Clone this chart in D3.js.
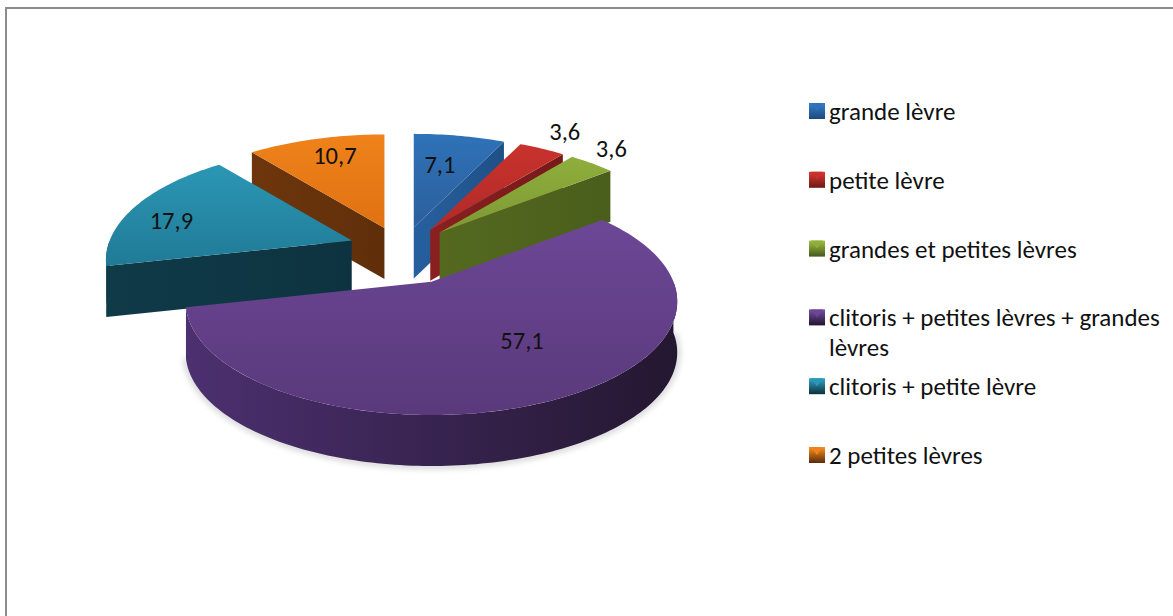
<!DOCTYPE html>
<html lang="fr">
<head>
<meta charset="utf-8">
<title>Localisation</title>
<script src="https://cdn.jsdelivr.net/npm/d3@7"></script>
<style>
  html, body { margin: 0; background: #fff; }
  svg { display: block; }
  text { font-family: Carlito, Lato, "Open Sans", sans-serif; fill: #111; }
</style>
</head>
<body>
<svg id="chart" width="1173" height="616"></svg>
<script>
const categories = [
  "grande lèvre",
  "petite lèvre",
  "grandes et petites lèvres",
  "clitoris + petites lèvres + grandes lèvres",
  "clitoris + petite lèvre",
  "2 petites lèvres"
];
const values = [7.1, 3.6, 3.6, 57.1, 17.9, 10.7];
const valueLabels = ["7,1", "3,6", "3,6", "57,1", "17,9", "10,7"];

// Shades of each slice: lit top edge, shaded top edge, wall
const topLight = ["#2f72b8", "#c9322c", "#8fae3c", "#6c4796", "#2b97b5", "#f0821b"];
const topDark  = ["#2c5f9c", "#b02a28", "#7c9a34", "#5a397b", "#207a96", "#df7211"];
const wallLeft  = ["#27609f", "#8a1f1f", "#54691f", "#4c3070", "#0f3a48", "#6e360c"];
const wallRight = ["#1f5086", "#771a1a", "#4a5e1c", "#241730", "#0e3340", "#5f2f0a"];

// How far each slice is pulled out of the pie, and where its label sits
const explosion = [0.22, 0.22, 0.22, 0.28, 0.22, 0.22];
const labelRadius = [0.64, 1.24, 1.2, 0.6, 0.79, 0.78];
const labelTurn = [-2, 0, -2, -9, -6, 2];

const centre = { x: 402, y: 248 };
const rx = 242, ry = 110, tilt = 0.175, sag = 0.7, depth = 51;
const frame = { x: 6, y: 8 };

const svg = d3.select("#chart");
const defs = svg.append("defs");

// Only the top and left edges of the chart area's frame are in view
svg.append("path")
  .attr("d", d3.line()([[frame.x, 616], [frame.x, frame.y], [1173, frame.y]]))
  .attr("fill", "none").attr("stroke", "#8c8c8c").attr("stroke-width", 2);

// Disc seen in perspective: the far rim is compressed relative to the near rim
function project(angle, r = 1) {
  const s = Math.sin(angle) * r, c = Math.cos(angle) * r;
  const f = 1 + tilt * c;
  return [rx * s / f, -ry * c / f];
}

const arcs = d3.pie().sort(null).value(d => d)(values);
const line = d3.line();

const slices = arcs.map((a, i) => {
  const mid = (a.startAngle + a.endAngle) / 2;
  const e = explosion[i], c = Math.cos(mid);
  const apex = [
    centre.x + rx * e * Math.sin(mid),
    centre.y - ry * e * c / (1 + sag * e * c)
  ];
  return { ...a, i, mid, apex };
});

const at = (s, angle, r = 1) => {
  const p = project(angle, r);
  return [s.apex[0] + p[0], s.apex[1] + p[1]];
};
const down = p => [p[0], p[1] + depth];

function rimPoints(s, from, to) {
  const n = Math.max(2, Math.ceil((to - from) / 0.02));
  return d3.range(n + 1).map(k => at(s, from + (to - from) * k / n));
}

// A radial wall shows only when the slice's own top face lies above it
function wallFaces(s, angle) {
  const r = at(s, angle), m = at(s, s.mid);
  const dx = r[0] - s.apex[0];
  if (Math.abs(dx) < 1) return false;
  const yOnWall = s.apex[1] + (r[1] - s.apex[1]) * (m[0] - s.apex[0]) / dx;
  return m[1] < yOnWall;
}

const pie = svg.append("g");

// Soft shadow under the near rim of the largest slice
defs.append("filter").attr("id", "soft")
  .attr("x", "-10%").attr("y", "-10%").attr("width", "120%").attr("height", "120%")
  .append("feGaussianBlur").attr("stdDeviation", 3);

// Painter's order: right-hand slices, then the back-left ones, the large front slice last
[0, 1, 2, 5, 4, 3].forEach(idx => {
  const s = slices[idx];
  const g = pie.append("g").attr("class", "slice");
  const rim = rimPoints(s, s.startAngle, s.endAngle);
  const xs = rim.map(p => p[0]);
  const ys = rim.concat([s.apex]).map(p => p[1]);

  const topId = `top-${idx}`, wallId = `wall-${idx}`;
  const topGrad = defs.append("linearGradient").attr("id", topId)
    .attr("gradientUnits", "userSpaceOnUse")
    .attr("x1", 0).attr("x2", 0).attr("y1", d3.min(ys)).attr("y2", d3.max(ys));
  topGrad.append("stop").attr("offset", 0).attr("stop-color", topLight[idx]);
  topGrad.append("stop").attr("offset", 1).attr("stop-color", topDark[idx]);

  const wallGrad = defs.append("linearGradient").attr("id", wallId)
    .attr("gradientUnits", "userSpaceOnUse")
    .attr("x1", d3.min(xs.concat(s.apex[0]))).attr("x2", d3.max(xs.concat(s.apex[0])))
    .attr("y1", 0).attr("y2", 0);
  wallGrad.append("stop").attr("offset", 0).attr("stop-color", wallLeft[idx]);
  wallGrad.append("stop").attr("offset", 1).attr("stop-color", wallRight[idx]);

  // Outer wall, only over the part of the rim turned towards the viewer
  const from = Math.max(s.startAngle, Math.PI / 2);
  const to = Math.min(s.endAngle, 3 * Math.PI / 2);
  if (to > from) {
    const edge = rimPoints(s, from, to);
    if (idx === 3) {
      g.append("path")
        .attr("d", line(edge.map(down)))
        .attr("fill", "none").attr("stroke", "#000").attr("stroke-opacity", 0.25)
        .attr("stroke-width", 4).attr("filter", "url(#soft)");
    }
    g.append("path")
      .attr("d", line(edge.concat(edge.map(down).reverse())) + "Z")
      .attr("fill", `url(#${wallId})`);
  }

  // Radial walls facing the viewer
  [s.startAngle, s.endAngle].filter(a => wallFaces(s, a)).forEach(a => {
    const r = at(s, a);
    g.append("path")
      .attr("d", line([s.apex, r, down(r), down(s.apex)]) + "Z")
      .attr("fill", `url(#${wallId})`);
  });

  // Top face
  g.append("path")
    .attr("d", line([s.apex, ...rim]) + "Z")
    .attr("fill", `url(#${topId})`);
});

// Value labels
svg.append("g").selectAll("text").data(slices).join("text")
  .attr("transform", s => {
    const [x, y] = at(s, s.mid + labelTurn[s.i] * Math.PI / 180, labelRadius[s.i]);
    return `translate(${x},${y})`;
  })
  .attr("text-anchor", "middle")
  .attr("dominant-baseline", "central")
  .attr("font-size", 24.5)
  .text((s, i) => valueLabels[i]);

// Legend
const legendY = d3.scalePoint().domain(d3.range(categories.length)).range([111, 455]);
const legendX = 809, swatch = 16, legendTextX = 829, wrapAt = 340;

const legend = svg.append("g").selectAll("g").data(categories).join("g")
  .attr("transform", (d, i) => `translate(${legendX},${legendY(i)})`);

legend.each(function (d, i) {
  const g = d3.select(this);
  const id = `swatch-${i}`;
  const grad = defs.append("linearGradient").attr("id", id).attr("x1", 0).attr("x2", 0).attr("y1", 0).attr("y2", 1);
  grad.append("stop").attr("offset", 0).attr("stop-color", d3.color(topLight[i]).brighter(0.3));
  grad.append("stop").attr("offset", 1).attr("stop-color", d3.color(wallRight[i]).darker(0.2));
  g.append("rect").attr("x", 0).attr("y", -swatch / 2).attr("width", swatch).attr("height", swatch)
    .attr("fill", `url(#${id})`);
  g.append("path")
    .attr("d", line([[2, -swatch / 2], [swatch - 2, -swatch / 2], [swatch / 2, 0]]) + "Z")
    .attr("fill", topLight[i]);

  const text = g.append("text").attr("x", legendTextX - legendX).attr("font-size", 25)
    .attr("dominant-baseline", "central");
  const words = d.split(" ");
  let row = [], dy = 0;
  let tspan = text.append("tspan").attr("x", legendTextX - legendX).attr("y", 0);
  words.forEach(w => {
    row.push(w);
    tspan.text(row.join(" "));
    if (tspan.node().getComputedTextLength() > wrapAt) {
      row.pop();
      tspan.text(row.join(" "));
      row = [w];
      dy += 30;
      tspan = text.append("tspan").attr("x", legendTextX - legendX).attr("y", dy).text(w);
    }
  });
});
</script>
</body>
</html>
